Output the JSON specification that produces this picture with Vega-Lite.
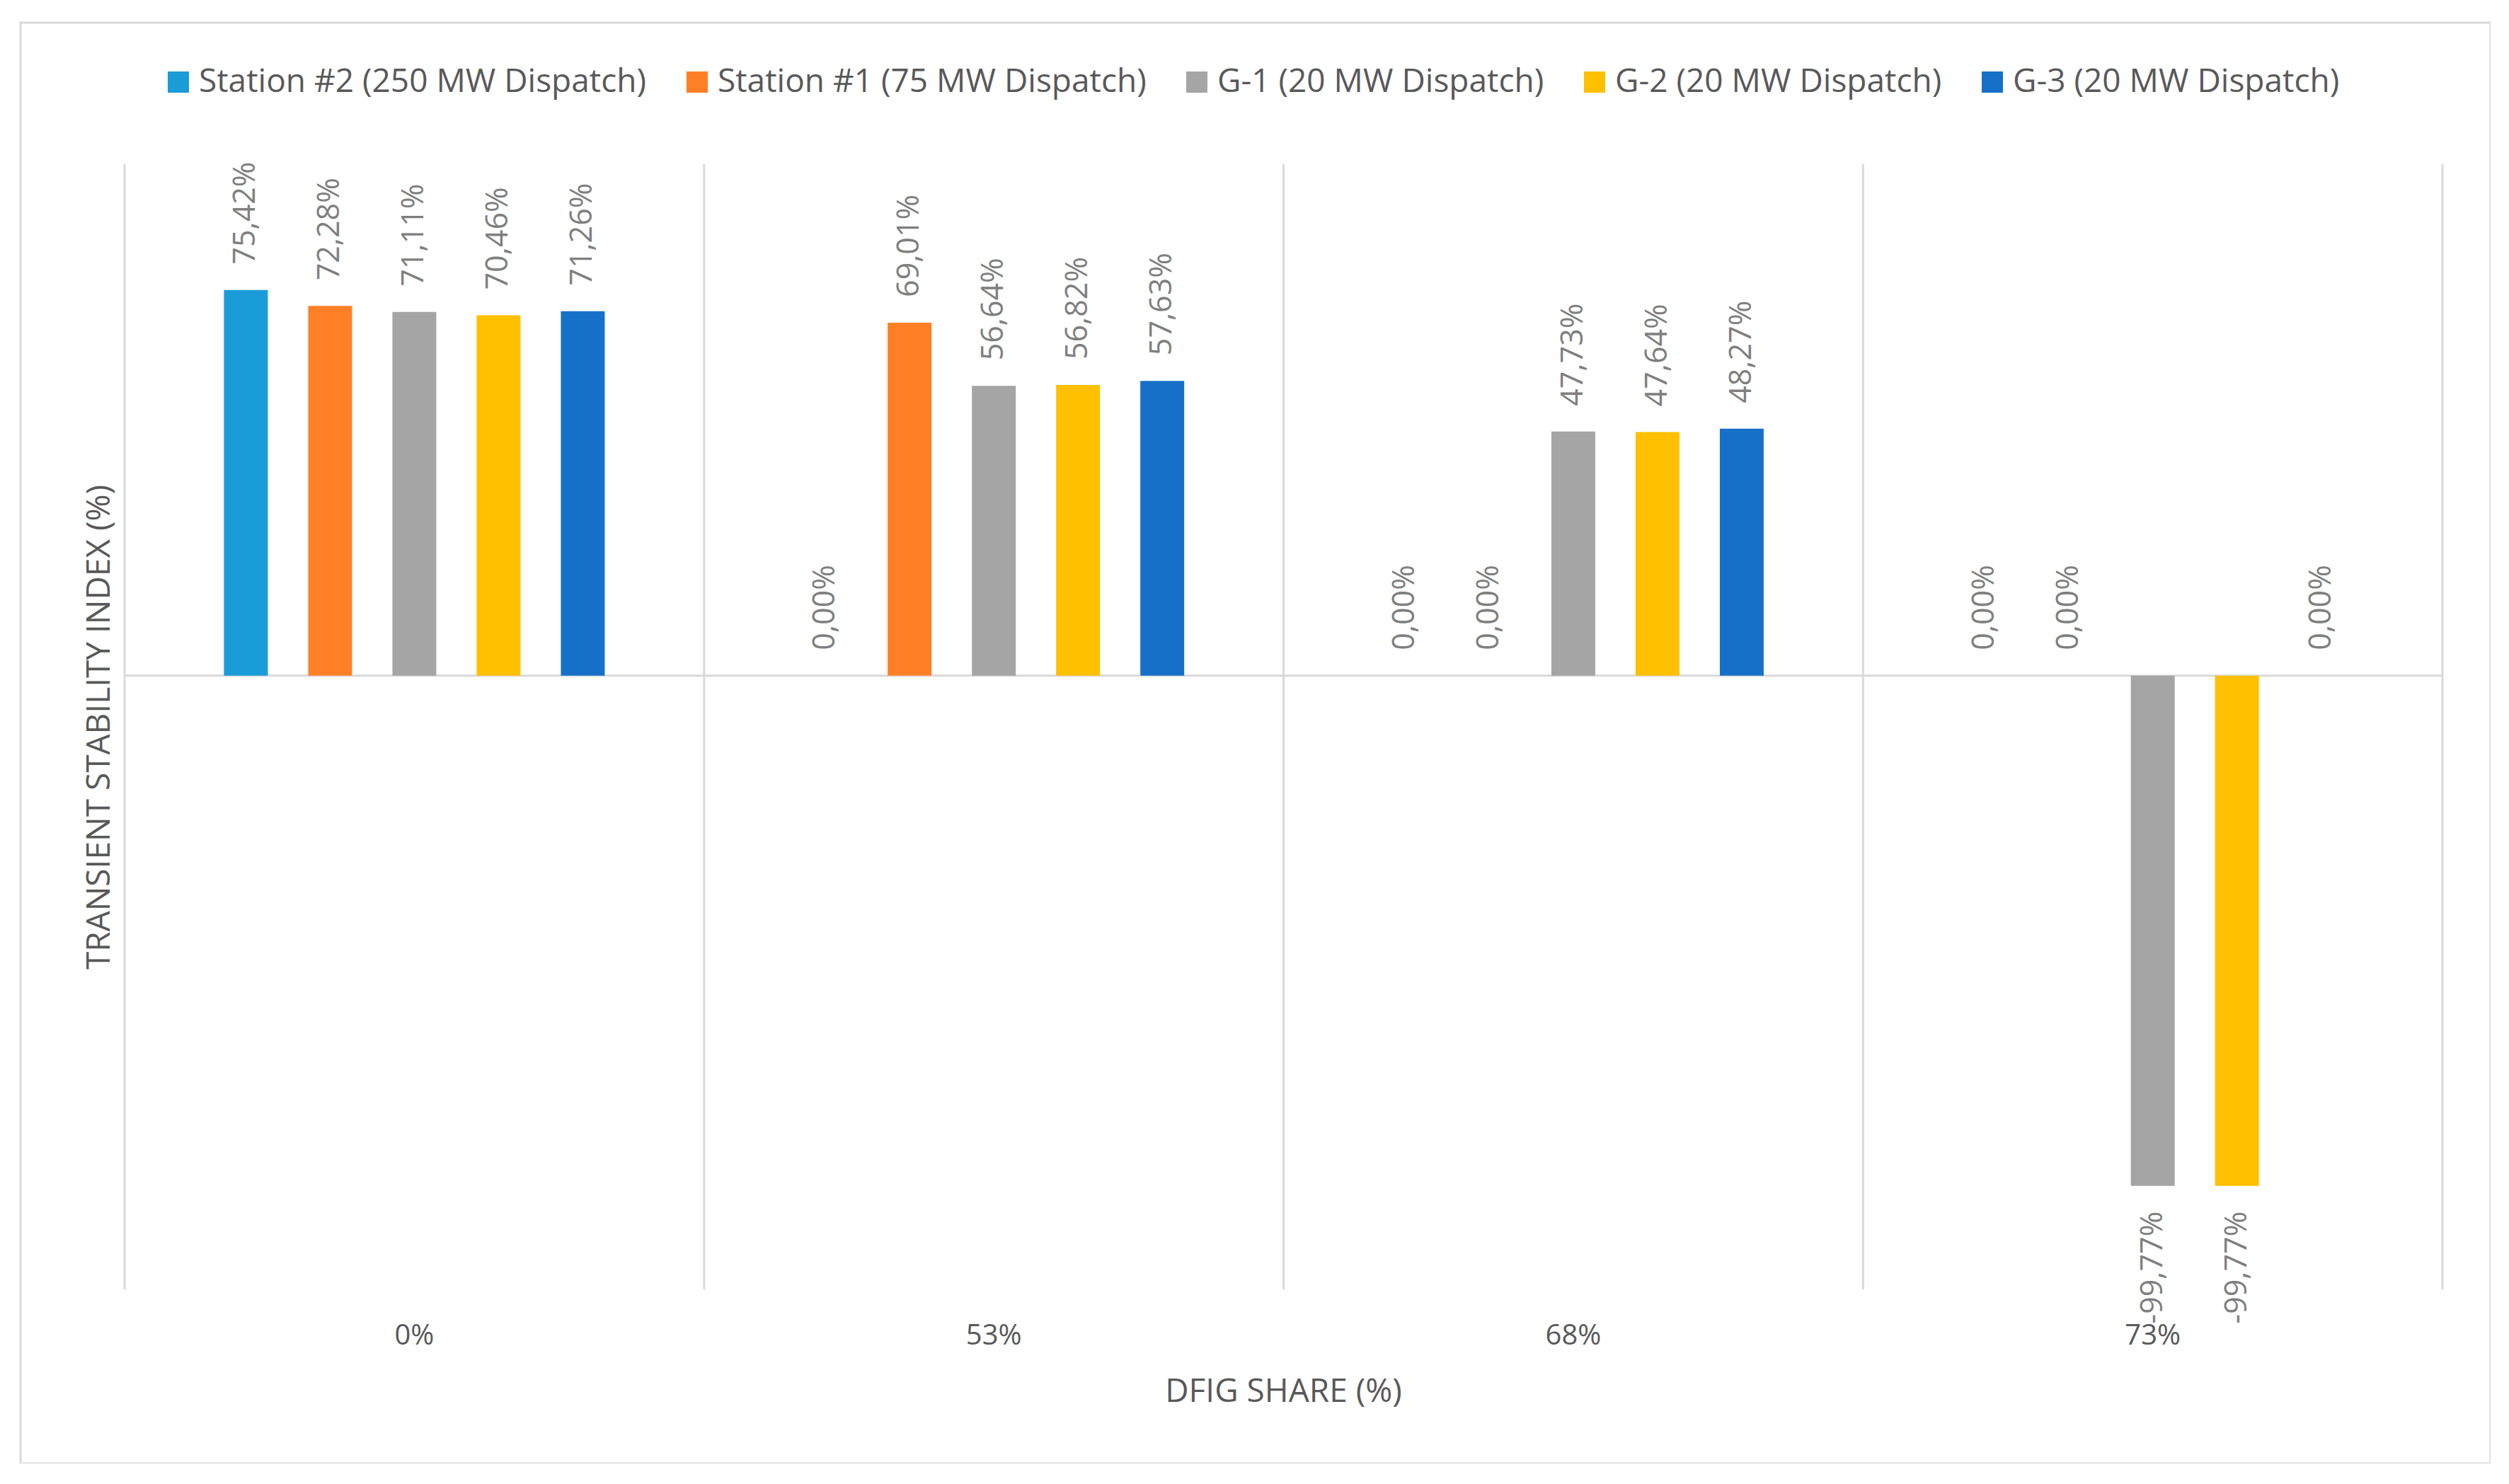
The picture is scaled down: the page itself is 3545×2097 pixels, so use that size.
{
  "$schema": "https://vega.github.io/schema/vega-lite/v6.json",
  "width": 3490,
  "height": 2036,
  "padding": {"left": 29, "top": 32, "right": 0, "bottom": 0},
  "background": "white",
  "config": {
    "view": {"stroke": "#d9d9d9", "strokeWidth": 3},
    "font": "Open Sans",
    "locale": {"number": {"decimal": ",", "thousands": ".", "grouping": [3], "currency": ["", " €"], "minus": "-"}}
  },
  "datasets": {
    "results": [
      {"share": "0%", "station": "Station #2 (250 MW Dispatch)", "value": 0.7542},
      {"share": "0%", "station": "Station #1 (75 MW Dispatch)", "value": 0.7228},
      {"share": "0%", "station": "G-1 (20 MW Dispatch)", "value": 0.7111},
      {"share": "0%", "station": "G-2 (20 MW Dispatch)", "value": 0.7046},
      {"share": "0%", "station": "G-3 (20 MW Dispatch)", "value": 0.7126},
      {"share": "53%", "station": "Station #2 (250 MW Dispatch)", "value": 0},
      {"share": "53%", "station": "Station #1 (75 MW Dispatch)", "value": 0.6901},
      {"share": "53%", "station": "G-1 (20 MW Dispatch)", "value": 0.5664},
      {"share": "53%", "station": "G-2 (20 MW Dispatch)", "value": 0.5682},
      {"share": "53%", "station": "G-3 (20 MW Dispatch)", "value": 0.5763},
      {"share": "68%", "station": "Station #2 (250 MW Dispatch)", "value": 0},
      {"share": "68%", "station": "Station #1 (75 MW Dispatch)", "value": 0},
      {"share": "68%", "station": "G-1 (20 MW Dispatch)", "value": 0.4773},
      {"share": "68%", "station": "G-2 (20 MW Dispatch)", "value": 0.4764},
      {"share": "68%", "station": "G-3 (20 MW Dispatch)", "value": 0.4827},
      {"share": "73%", "station": "Station #2 (250 MW Dispatch)", "value": 0},
      {"share": "73%", "station": "Station #1 (75 MW Dispatch)", "value": 0},
      {"share": "73%", "station": "G-1 (20 MW Dispatch)", "value": -0.9977},
      {"share": "73%", "station": "G-2 (20 MW Dispatch)", "value": -0.9977},
      {"share": "73%", "station": "G-3 (20 MW Dispatch)", "value": 0}
    ],
    "cats": [{"share": "0%"}, {"share": "53%"}, {"share": "68%"}, {"share": "73%"}]
  },
  "data": {"name": "results"},
  "layer": [
    {
      "data": {"name": "cats"},
      "mark": {"type": "rule", "color": "#d9d9d9", "strokeWidth": 3},
      "encoding": {
        "x": {"field": "share", "type": "nominal", "bandPosition": 0},
        "y": {"datum": 1.0, "type": "quantitative"},
        "y2": {"datum": -1.2}
      }
    },
    {
      "data": {"values": [{}]},
      "mark": {"type": "rule", "color": "#d9d9d9", "strokeWidth": 3},
      "encoding": {
        "x": {"datum": "73%", "type": "nominal", "bandPosition": 1},
        "y": {"datum": 1.0, "type": "quantitative"},
        "y2": {"datum": -1.2}
      }
    },
    {
      "data": {"values": [{}]},
      "mark": {"type": "rule", "color": "#d9d9d9", "strokeWidth": 3},
      "encoding": {
        "x": {"datum": "0%", "type": "nominal", "bandPosition": 0},
        "x2": {"datum": "73%", "bandPosition": 1},
        "y": {"datum": 0, "type": "quantitative"}
      }
    },
    {
      "mark": {"type": "bar", "width": 62},
      "encoding": {
        "x": {
          "field": "share", "type": "nominal",
          "scale": {"domain": ["0%", "53%", "68%", "73%"], "paddingInner": 0, "paddingOuter": 0.1313, "align": 0.684},
          "axis": {
            "orient": "bottom", "offset": -201, "domain": false, "ticks": false, "tickSize": 0, "grid": false,
            "bandPosition": 0.5, "labelAlign": "center", "labelBaseline": "top",
            "labelPadding": 0, "labelAngle": 0, "labelFontSize": 40, "labelColor": "#595959", "labelFont": "Open Sans",
            "title": "DFIG SHARE (%)", "titleFontSize": 46, "titleFontWeight": "normal", "titleColor": "#595959",
            "titleFont": "Open Sans", "titlePadding": 37, "titleX": 1784
          }
        },
        "xOffset": {
          "field": "station", "type": "nominal",
          "scale": {"domain": ["Station #2 (250 MW Dispatch)", "Station #1 (75 MW Dispatch)", "G-1 (20 MW Dispatch)", "G-2 (20 MW Dispatch)", "G-3 (20 MW Dispatch)"], "paddingInner": 0, "paddingOuter": 0.94}
        },
        "y": {
          "field": "value", "type": "quantitative",
          "scale": {"domain": [-1.5404, 1.2767], "nice": false, "zero": false},
          "axis": {
            "domain": false, "ticks": false, "labels": false, "grid": false,
            "title": "TRANSIENT STABILITY INDEX (%)", "titleFontSize": 46, "titleFontWeight": "normal",
            "titleColor": "#595959", "titleFont": "Open Sans", "titleX": 111, "titleY": 995,
            "titleAngle": 270, "titleAlign": "center", "titleBaseline": "middle"
          }
        },
        "y2": {"datum": 0},
        "color": {
          "field": "station", "type": "nominal",
          "scale": {
            "domain": ["Station #2 (250 MW Dispatch)", "Station #1 (75 MW Dispatch)", "G-1 (20 MW Dispatch)", "G-2 (20 MW Dispatch)", "G-3 (20 MW Dispatch)"],
            "range": ["#199CD8", "#FF7F27", "#A5A5A5", "#FFC000", "#1670C8"]
          },
          "legend": {
            "orient": "none", "legendX": 200, "legendY": 61, "direction": "horizontal", "title": null,
            "symbolType": "square", "symbolSize": 900, "symbolStrokeWidth": 0,
            "labelFontSize": 46, "labelFont": "Open Sans", "labelColor": "#595959", "labelOffset": 6,
            "columnPadding": 48, "labelLimit": 2000
          }
        }
      }
    },
    {
      "transform": [{"filter": "datum.value >= 0"}],
      "mark": {"type": "text", "angle": 270, "align": "left", "baseline": "middle", "dx": 36, "fontSize": 43, "font": "Open Sans", "color": "#7f7f7f"},
      "encoding": {
        "x": {"field": "share", "type": "nominal"},
        "xOffset": {"field": "station", "type": "nominal"},
        "y": {"field": "value", "type": "quantitative"},
        "text": {"field": "value", "type": "quantitative", "format": ".2%"}
      }
    },
    {
      "transform": [{"filter": "datum.value < 0"}],
      "mark": {"type": "text", "angle": 270, "align": "right", "baseline": "middle", "dx": -36, "fontSize": 43, "font": "Open Sans", "color": "#7f7f7f"},
      "encoding": {
        "x": {"field": "share", "type": "nominal"},
        "xOffset": {"field": "station", "type": "nominal"},
        "y": {"field": "value", "type": "quantitative"},
        "text": {"field": "value", "type": "quantitative", "format": ".2%"}
      }
    }
  ]
}
